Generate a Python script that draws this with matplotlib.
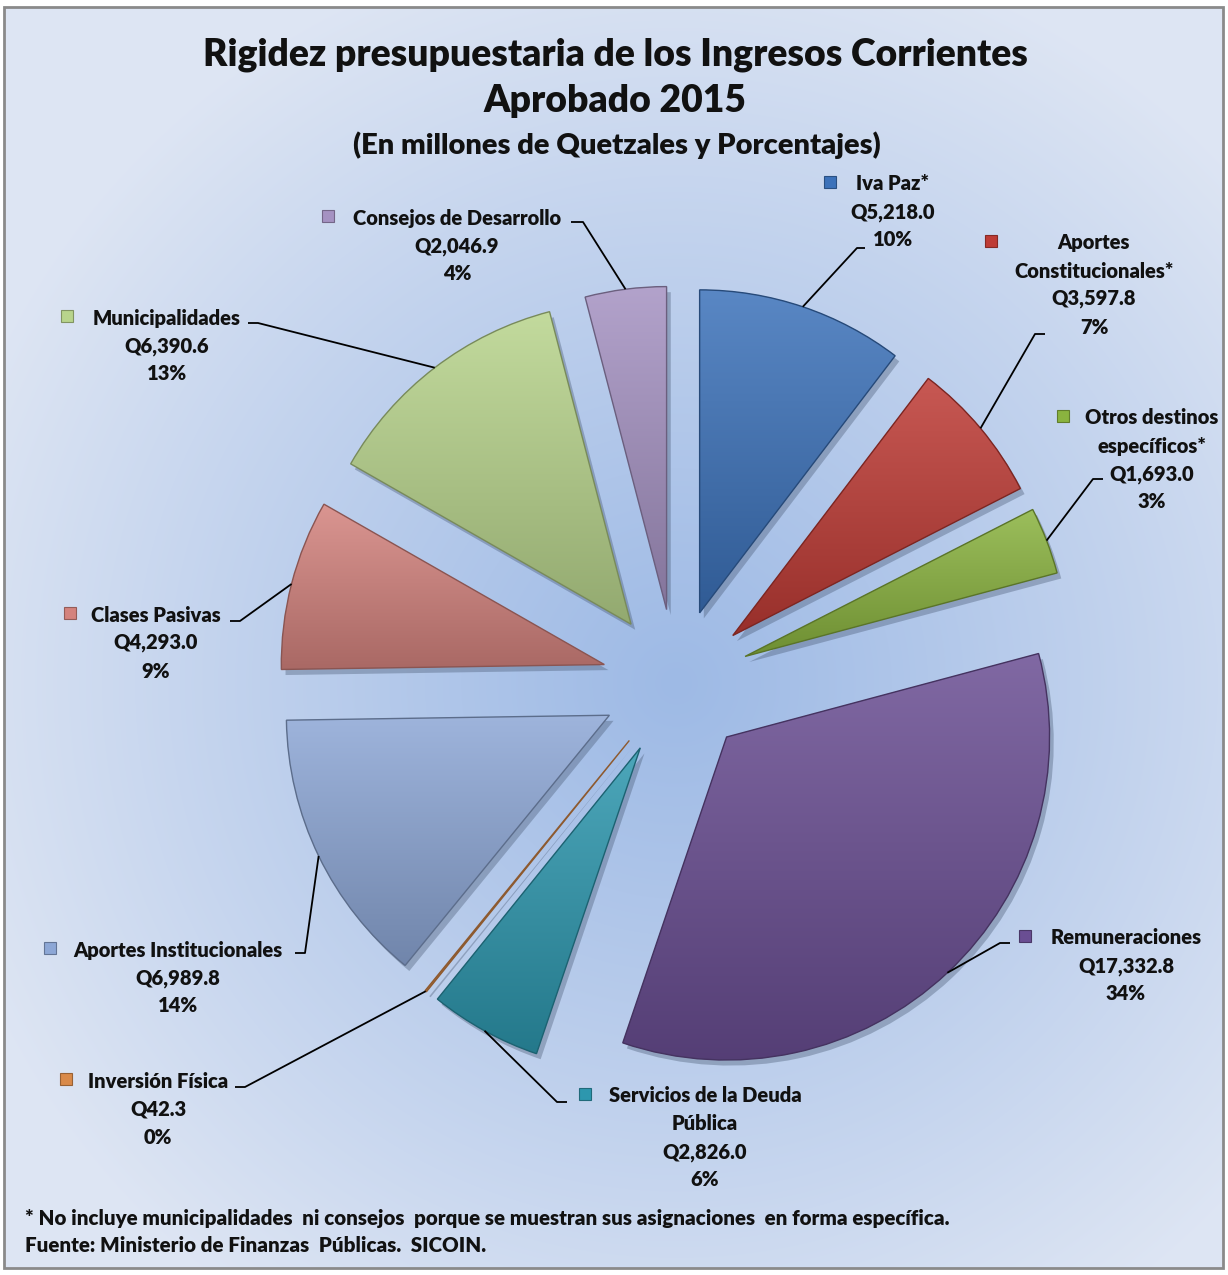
import numpy as np
import matplotlib
matplotlib.use("Agg")
import matplotlib.pyplot as plt
import matplotlib.patheffects as pe
import matplotlib.patches as mpatches
from matplotlib.colors import to_rgb

# ---------------- data ----------------
categories = ["Iva Paz*", "Aportes Constitucionales*", "Otros destinos específicos*",
              "Remuneraciones", "Servicios de la Deuda Pública", "Inversión Física",
              "Aportes Institucionales", "Clases Pasivas", "Municipalidades",
              "Consejos de Desarrollo"]
label_names = [["Iva Paz*"], ["Aportes", "Constitucionales*"], ["Otros destinos", "específicos*"],
               ["Remuneraciones"], ["Servicios de la Deuda", "Pública"], ["Inversión Física"],
               ["Aportes Institucionales"], ["Clases Pasivas"], ["Municipalidades"],
               ["Consejos de Desarrollo"]]
values = [5218.0, 3597.8, 1693.0, 17332.8, 2826.0, 42.3, 6989.8, 4293.0, 6390.6, 2046.9]
colors = ["#3C72BA", "#BE3B35", "#8AB33F", "#6A4E93", "#2D97AE", "#D98A4A",
          "#8DA7D6", "#D4837E", "#B8D48C", "#A592C2"]

title_lines = ["Rigidez presupuestaria de los Ingresos Corrientes", "Aprobado 2015"]
subtitle = "(En millones de Quetzales y Porcentajes)"
foot1 = "* No incluye municipalidades  ni consejos  porque se muestran sus asignaciones  en forma específica."
foot2 = "Fuente: Ministerio de Finanzas  Públicas.  SICOIN."

# ---------------- layout (pixel coords, y down) ----------------
W, H = 1228, 1275
CX, CY = 676, 683
R = 323
EXPL = 74
# (text centre x, first line y, marker x, leader start, leader knee)
label_layout = [
    (893, 184, 830, (865, 248), (857, 248)),
    (1094, 243, 991, (1045, 334), (1035, 334)),
    (1152, 418, 1063, (1103, 479), (1093, 479)),
    (1126, 938, 1025, (1010, 943), (1000, 943)),
    (705, 1096, 585, (567, 1102), (557, 1102)),
    (158, 1081, 66, (235, 1087), (245, 1087)),
    (178, 950, 50, (295, 953), (305, 953)),
    (156, 615, 70, (230, 621), (240, 621)),
    (167, 318, 67, (248, 323), (258, 323)),
    (457, 218, 328, (571, 222), (583, 222)),
]
LINE = 28
WEIGHT = "heavy"

FONT = ["Lato", "DejaVu Sans"]
plt.rcParams["font.family"] = FONT

fig = plt.figure(figsize=(W / 100, H / 100), dpi=100)
fig.patch.set_facecolor("white")
ax = fig.add_axes([0, 0, 1, 1])


def Y(y):
    return H - y


def mix(c, t, target):
    c = np.array(to_rgb(c))
    return c * (1 - t) + np.array(target) * t


# background radial gradient inside frame
yy, xx = np.mgrid[0:H, 0:W]
d = np.sqrt(((xx - CX) / 760.0) ** 2 + ((yy - CY) / 760.0) ** 2)
t = np.clip(d, 0, 1) ** 1.1
cin = np.array([0.62, 0.73, 0.90])
cout = np.array([0.87, 0.90, 0.955])
bg = cin[None, None, :] * (1 - t[..., None]) + cout[None, None, :] * t[..., None]
frame = mpatches.Rectangle((4, Y(1268)), W - 9, 1268 - 7, fill=False,
                           ec="#8a8a8a", lw=2.0, zorder=10)
bim = ax.imshow(bg, extent=(0, W, 0, H), origin="upper", zorder=0, aspect="auto")
clip_rect = mpatches.Rectangle((4, Y(1268)), W - 9, 1268 - 7, transform=ax.transData)
bim.set_clip_path(clip_rect)
ax.add_patch(frame)

# pie
wedges, _ = ax.pie(values, colors=colors, startangle=90, counterclock=False,
                   radius=R, center=(CX, Y(CY)), explode=[EXPL] * len(values),
                   wedgeprops=dict(linewidth=0))
for w, c in zip(wedges, colors):
    w.set_zorder(2)
    w.set_path_effects([pe.SimplePatchShadow(offset=(3, -4), alpha=0.35, shadow_rgbFace="#40506a"),
                        pe.Normal()])
    ext = w.get_path().get_extents()
    g = np.linspace(0, 1, 256)[:, None]
    top = mix(c, 0.15, (1, 1, 1))
    bot = mix(c, 0.2, (0, 0, 0))
    img = top[None, None, :] * (1 - g[..., None]) + bot[None, None, :] * g[..., None]
    im = ax.imshow(img, extent=(ext.x0, ext.x1 + 0.01, ext.y0, ext.y1 + 0.01), origin="upper",
                   aspect="auto", zorder=2.1, interpolation="bilinear")
    im.set_clip_path(w)
    ax.add_patch(mpatches.PathPatch(w.get_path(), fill=False, ec=mix(c, 0.35, (0, 0, 0)),
                                    lw=1.0, zorder=2.2))

# labels and leader lines
total = sum(values)
for w, names, v, c, lay in zip(wedges, label_names, values, colors, label_layout):
    tx, ty, mx, s, k = lay
    lines = names + [f"Q{v:,.1f}", f"{v / total * 100:.0f}%"]
    for i, ln in enumerate(lines):
        ax.text(tx, Y(ty + LINE * i), ln, ha="center", va="center", fontsize=14.5,
                fontweight=WEIGHT, color="#111111", zorder=5)
    ax.plot([mx], [Y(ty - 2)], marker="s", ms=8.5, color=c,
            mec=mix(c, 0.3, (0, 0, 0)), mew=0.8, zorder=5)
    thm = np.deg2rad((w.theta1 + w.theta2) / 2)
    px = w.center[0] + w.r * np.cos(thm)
    py = w.center[1] + w.r * np.sin(thm)
    ax.plot([s[0], k[0], px], [Y(s[1]), Y(k[1]), py], color="black", lw=1.3, zorder=4,
            solid_capstyle="butt")

# titles
ax.text(615, Y(55), title_lines[0], ha="center", va="center", fontsize=26.8, fontweight=WEIGHT,
        color="#111111", zorder=5)
ax.text(615, Y(101), title_lines[1], ha="center", va="center", fontsize=26.8, fontweight=WEIGHT,
        color="#111111", zorder=5)
ax.text(617, Y(145), subtitle, ha="center", va="center", fontsize=21, fontweight=WEIGHT,
        color="#111111", zorder=5)
ax.text(25, Y(1218), foot1, ha="left", va="center", fontsize=14.8, fontweight=WEIGHT,
        color="#111111", zorder=5)
ax.text(25, Y(1246), foot2, ha="left", va="center", fontsize=14.8, fontweight=WEIGHT,
        color="#111111", zorder=5)

ax.set_xlim(0, W)
ax.set_ylim(0, H)
ax.set_aspect("equal")
ax.axis("off")
fig.savefig("out.png", dpi=100, facecolor="white")
